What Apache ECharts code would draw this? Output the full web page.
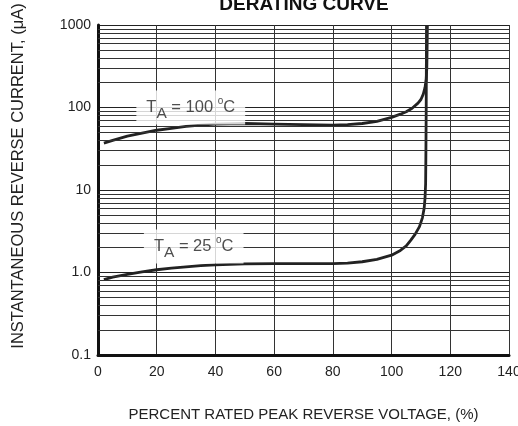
<!DOCTYPE html>
<html><head><meta charset="utf-8">
<script src="https://cdn.jsdelivr.net/npm/echarts@6/dist/echarts.min.js"></script>
<style>html,body{margin:0;padding:0;background:#fff}#c{width:518px;height:426px}</style>
</head><body><div id="c"></div>
<script>
// Data
const curve100X = [2, 5, 10, 15, 20, 25, 30, 35, 40, 50, 60, 70, 80, 85, 90, 95, 100, 103, 105, 107, 109, 110, 110.8, 111.4, 111.8, 112.0, 112.1, 112.2];
const curve100Y = [37, 40, 45, 49, 53, 56, 59, 61, 63, 64, 63, 62, 61, 62, 64, 68, 76, 83, 89, 98, 113, 125, 145, 175, 220, 300, 500, 1000];
const curve25X = [2, 5, 10, 15, 20, 25, 30, 35, 40, 50, 60, 70, 80, 85, 90, 95, 100, 103, 105, 106.5, 108, 109.5, 110.5, 111.1, 111.4, 111.6, 111.7, 111.8, 111.9];
const curve25Y = [0.82, 0.88, 0.95, 1.02, 1.08, 1.13, 1.17, 1.21, 1.24, 1.27, 1.28, 1.28, 1.28, 1.30, 1.35, 1.44, 1.62, 1.85, 2.1, 2.45, 2.9, 3.6, 4.6, 6.0, 8, 12, 30, 100, 1000];
const yTickLabels = {0.1: '0.1', 1: '1.0', 10: '10', 100: '100', 1000: '1000'};
const minorGridValues = [0.2,0.3,0.4,0.5,0.6,0.7,0.8,0.9, 2,3,4,5,6,7,8,9, 20,30,40,50,60,70,80,90, 200,300,400,500,600,700,800,900];
const annotations = [
  {x: 31.6, y: 100, temp: '100'},
  {x: 32.6, y: 2.07, temp: '25'}
];
const titleText = 'DERATING CURVE';
const xName = 'PERCENT RATED PEAK REVERSE VOLTAGE, (%)';
const yName = 'INSTANTANEOUS REVERSE CURRENT, (\u03BCA)';

const zip = (xs, ys) => xs.map((x, i) => [x, ys[i]]);
const chart = echarts.init(document.getElementById('c'));
const font = '"Liberation Sans", Arial, sans-serif';
chart.setOption({
  animation: false,
  title: {text: titleText, left: 299, top: -10, textAlign: 'center',
    textStyle: {fontFamily: font, fontSize: 19, fontWeight: 'bold', color: '#111'}},
  graphic: [{type: 'text', x: 18, y: 176, rotation: Math.PI / 2, silent: true,
    style: {text: yName, fontFamily: font, fontSize: 16.5, fill: '#222', align: 'center', verticalAlign: 'middle'}}],
  grid: {left: 98, right: 9, top: 25, bottom: 71, containLabel: false, outerBoundsMode: 'none'},
  xAxis: {type: 'value', min: 0, max: 140, interval: 20,
    name: xName, nameLocation: 'middle', nameGap: 52,
    nameTextStyle: {fontFamily: font, fontSize: 15, color: '#222'},
    axisLine: {show: true, onZero: false, lineStyle: {color: '#111', width: 3}},
    axisTick: {show: false},
    axisLabel: {fontFamily: font, fontSize: 14, color: '#222', margin: 10},
    splitLine: {show: true, lineStyle: {color: '#333', width: 1}}},
  yAxis: {type: 'log', logBase: 10, min: 0.1, max: 1000,
    axisLine: {show: true, onZero: false, lineStyle: {color: '#111', width: 3}},
    axisTick: {show: false},
    axisLabel: {fontFamily: font, fontSize: 14, color: '#222', margin: 7,
      formatter: v => yTickLabels[+v.toPrecision(3)] || ''},
    splitLine: {show: true, lineStyle: {color: '#222', width: 1}}},
  series: [
    {type: 'line', data: [], silent: true, z: 1,
      markLine: {silent: true, symbol: 'none', label: {show: false},
        lineStyle: {color: '#333', width: 1, type: 'solid'},
        data: minorGridValues.map(v => ({yAxis: v}))}},
    {type: 'line', data: zip(curve100X, curve100Y), showSymbol: false, smooth: false,
      lineStyle: {color: '#222', width: 2.8, join: 'round'}, z: 3},
    {type: 'line', data: zip(curve25X, curve25Y), showSymbol: false, smooth: false,
      lineStyle: {color: '#222', width: 2.8, join: 'round'}, z: 3},
    {type: 'scatter', symbolSize: 0, z: 5,
      data: annotations.map(a => ({value: [a.x, a.y], temp: a.temp})),
      label: {show: true, position: 'inside', backgroundColor: '#fff',
        padding: [3, 10, 3, 10],
        formatter: p => '{t|T}{s|A}{t| = ' + p.data.temp + ' }{o|o}{t|C}',
        rich: {
          t: {fontFamily: font, fontSize: 16.5, color: '#222'},
          s: {fontFamily: font, fontSize: 15.5, color: '#222', padding: [12, 0, 0, 0]},
          o: {fontFamily: font, fontSize: 10, color: '#222', padding: [0, 0, 12, 0]}
        }}}
  ]
});
</script></body></html>
